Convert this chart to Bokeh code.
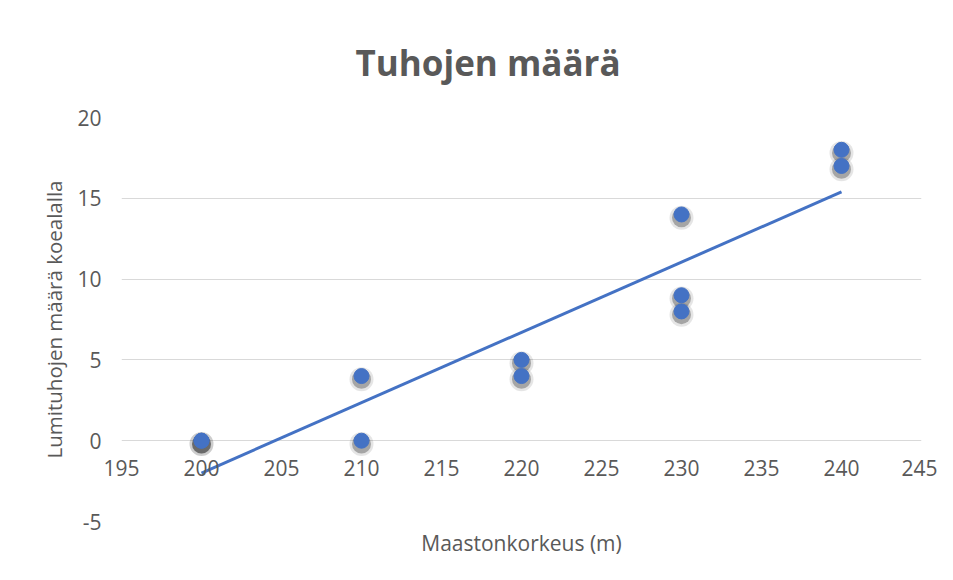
from bokeh.plotting import figure
from bokeh.models import Range1d, FixedTicker, Title, ColumnDataSource
from bokeh.transform import dodge
from bokeh.embed import file_html
from bokeh.resources import INLINE

# data
altitude = [200, 200, 210, 210, 220, 220, 230, 230, 230, 240, 240]
damages = [0, 0, 4, 0, 5, 4, 14, 9, 8, 18, 17]
trend_x = [200, 240]
trend_y = [-2.0, 15.4]
x_ticks = [195, 200, 205, 210, 215, 220, 225, 230, 235, 240, 245]
y_ticks = [-5, 0, 5, 10, 15, 20]

FONT = "Open Sans"
GREY = "#595959"
BLUE = "#4472C4"

p = figure(width=937, height=564, output_backend="svg", toolbar_location=None,
           x_range=Range1d(195, 245), y_range=Range1d(-5, 20),
           min_border_left=121, min_border_right=16, min_border_top=117, min_border_bottom=43)
p.outline_line_color = None
p.background_fill_color = "white"
p.border_fill_color = "white"

# gridlines
p.xgrid.grid_line_color = None
p.ygrid.grid_line_color = "#d9d9d9"
p.ygrid.grid_line_width = 1
p.ygrid.ticker = FixedTicker(ticks=y_ticks)

# x axis: labels drawn just under the y = 0 line
xa = p.xaxis[0]
xa.ticker = FixedTicker(ticks=x_ticks)
xa.axis_line_color = None
xa.major_tick_line_color = None
xa.minor_tick_line_color = None
xa.major_tick_out = 0
xa.major_tick_in = 0
xa.major_label_standoff = -62
xa.major_label_text_font = FONT
xa.major_label_text_font_size = "21px"
xa.major_label_text_color = GREY

ya = p.yaxis[0]
ya.ticker = FixedTicker(ticks=y_ticks)
ya.major_label_overrides = {-5: "-5"}
ya.axis_line_color = None
ya.major_tick_line_color = None
ya.minor_tick_line_color = None
ya.major_tick_out = 0
ya.major_tick_in = 0
ya.major_label_standoff = 20
ya.major_label_text_font = FONT
ya.major_label_text_font_size = "21px"
ya.major_label_text_color = GREY
ya.axis_label = "Lumituhojen määrä koealalla"
ya.axis_label_text_font = FONT
ya.axis_label_text_font_size = "20.5px"
ya.axis_label_text_font_style = "normal"
ya.axis_label_text_color = GREY
ya.axis_label_standoff = 6

# x axis title below
p.add_layout(Title(text="Maastonkorkeus (m)", align="center", text_font=FONT,
                   text_font_size="21px", text_font_style="normal", text_color=GREY), "below")

# chart title
p.add_layout(Title(text="Tuhojen määrä", align="left", text_font=FONT,
                   text_font_size="35px", text_font_style="bold", text_color=GREY,
                   offset=234, standoff=64), "above")

# trend line
p.line(trend_x, trend_y, line_color=BLUE, line_width=3)

# markers with soft shadows
cds = ColumnDataSource(dict(x=altitude, y=damages))
p.scatter(x="x", y=dodge("y", -0.2, range=p.y_range), source=cds, size=24,
          fill_color="black", fill_alpha=0.10, line_color=None)
p.scatter(x="x", y=dodge("y", -0.2, range=p.y_range), source=cds, size=19,
          fill_color="black", fill_alpha=0.28, line_color=None)
p.scatter(x="x", y="y", source=cds, size=15, fill_color=BLUE, line_color=BLUE,
          line_width=1)

open("out.html", "w").write(file_html(p, INLINE))
